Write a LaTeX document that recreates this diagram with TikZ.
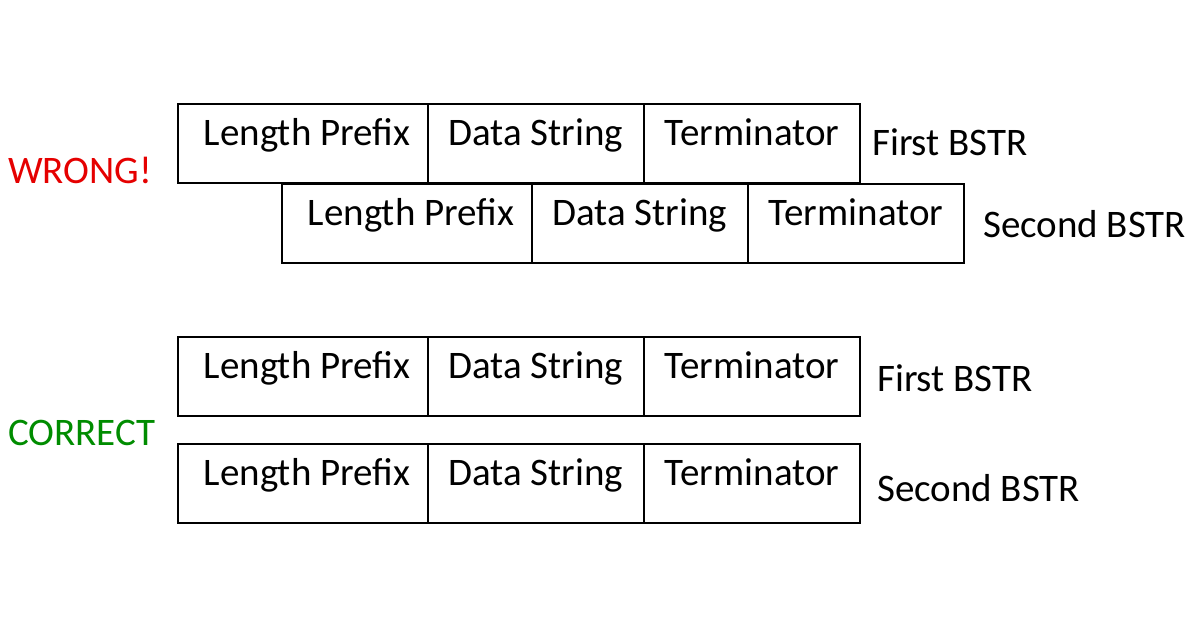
\documentclass[tikz,border=0pt]{standalone}
\usepackage{fontspec}
\setmainfont{Carlito}
\begin{document}
\begin{tikzpicture}[x=1pt,y=-1pt,
  cell/.style={draw,line width=1.5pt,minimum height=79pt,inner sep=0pt,outer sep=0pt,text height=0.68em,text depth=0.2em,anchor=north west,font=\fontsize{39}{44}\selectfont},
  lab/.style={anchor=west,inner sep=0pt,font=\fontsize{39}{44}\selectfont}]
\useasboundingbox (0,0) rectangle (1200,630);
\foreach \r/\x/\y in {a/178/104,b/282/184,c/178/337,d/178/444}{
  \node[cell,minimum width=250pt] (\r1) at (\x,\y) {\hspace{8pt}Length Prefix};
  \node[cell,minimum width=216pt] (\r2) at (\r1.north east) {Data String};
  \node[cell,minimum width=216pt] (\r3) at (\r2.north east) {Terminator\hspace{12pt}};
}
\node[lab] (la) at (872,142) {First BSTR};
\node[lab] (lb) at (983,224) {Second BSTR};
\node[lab] (lc) at (877,378) {First BSTR};
\node[lab] (ld) at (877,488) {Second BSTR};
\node[lab,text=red!90!black] (w) at (8,170) {WRONG!};
\node[lab,text=green!55!black] (c) at (8,433) {CORRECT};
\end{tikzpicture}
\end{document}
